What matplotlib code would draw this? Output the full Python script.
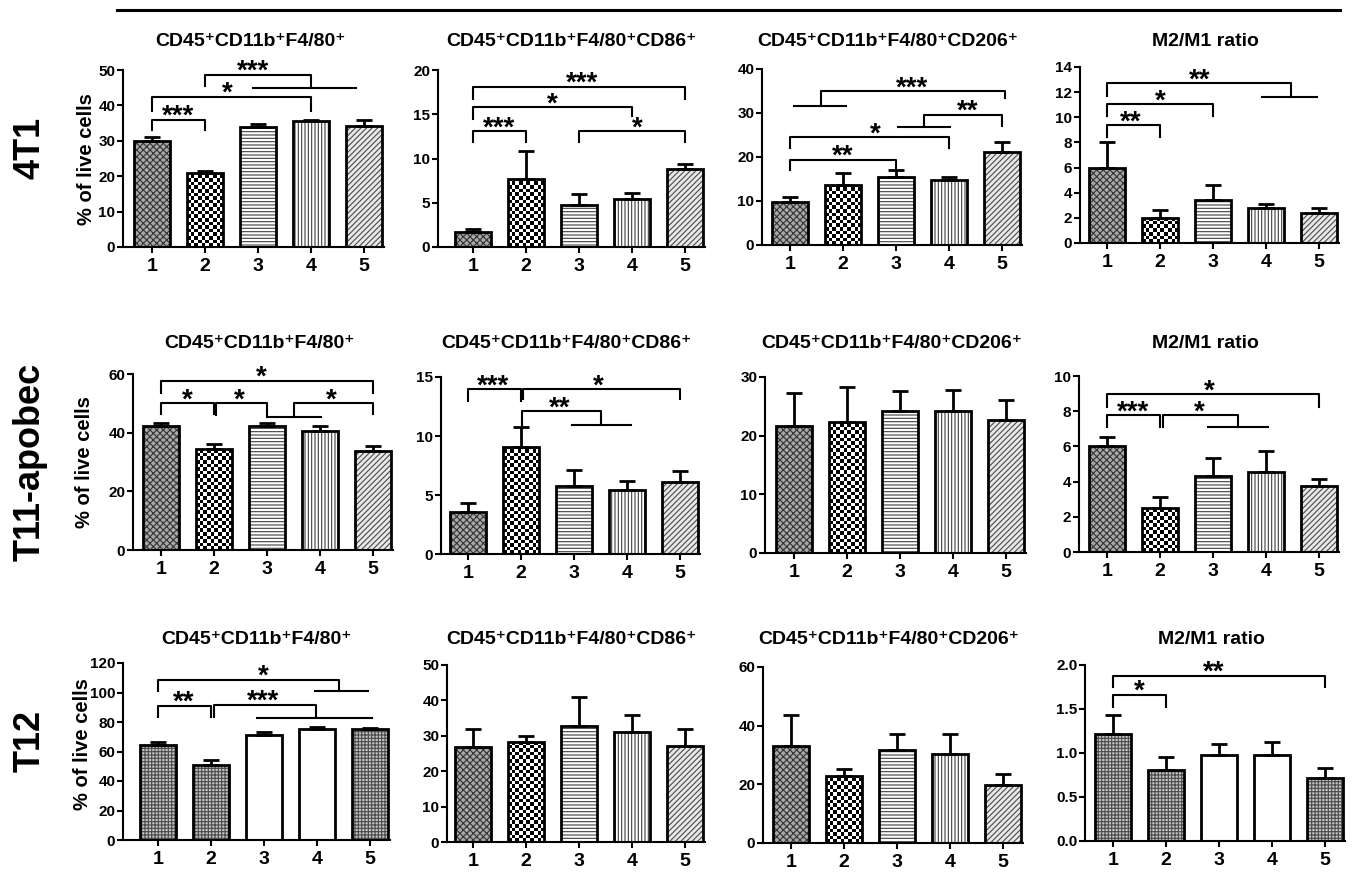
import numpy as np
import matplotlib
matplotlib.use('Agg')
import matplotlib.pyplot as plt
from matplotlib.lines import Line2D
from matplotlib.ticker import FormatStrFormatter

plt.rcParams['font.family'] = ['Liberation Sans', 'DejaVu Sans']
plt.rcParams['font.weight'] = 'bold'
plt.rcParams['hatch.linewidth'] = 0.8

W, H = 1355, 876

groups = [1, 2, 3, 4, 5]
row_names = ['4T1', 'T11-apobec', 'T12']
titles = ['CD45⁺CD11b⁺F4/80⁺', 'CD45⁺CD11b⁺F4/80⁺CD86⁺',
          'CD45⁺CD11b⁺F4/80⁺CD206⁺', 'M2/M1 ratio']
ylabel = '% of live cells'

# ---- 4T1 ----
mean_4t1_f480 = [30.0, 21.0, 33.8, 35.6, 34.2]
sem_4t1_f480 = [1.0, 0.6, 1.0, 0.3, 1.6]
mean_4t1_cd86 = [1.7, 7.7, 4.8, 5.4, 8.8]
sem_4t1_cd86 = [0.3, 3.2, 1.2, 0.7, 0.6]
mean_4t1_cd206 = [9.8, 13.6, 15.4, 14.8, 21.2]
sem_4t1_cd206 = [1.2, 2.8, 1.6, 0.7, 2.1]
mean_4t1_ratio = [6.0, 2.0, 3.4, 2.8, 2.4]
sem_4t1_ratio = [2.0, 0.65, 1.25, 0.3, 0.35]

# ---- T11-apobec ----
mean_t11_f480 = [42.3, 34.4, 42.3, 40.7, 33.7]
sem_t11_f480 = [0.9, 1.9, 1.1, 1.5, 1.7]
mean_t11_cd86 = [3.6, 9.1, 5.8, 5.4, 6.1]
sem_t11_cd86 = [0.75, 1.65, 1.3, 0.8, 0.9]
mean_t11_cd206 = [21.6, 22.3, 24.2, 24.2, 22.7]
sem_t11_cd206 = [5.6, 6.0, 3.4, 3.6, 3.4]
mean_t11_ratio = [6.0, 2.5, 4.3, 4.55, 3.75]
sem_t11_ratio = [0.55, 0.6, 1.05, 1.2, 0.42]

# ---- T12 ----
mean_t12_f480 = [64.5, 51.0, 71.0, 75.5, 75.3]
sem_t12_f480 = [1.7, 3.2, 2.0, 1.0, 0.5]
mean_t12_cd86 = [26.7, 28.2, 32.9, 31.0, 27.1]
sem_t12_cd86 = [5.2, 1.7, 8.2, 4.8, 4.8]
mean_t12_cd206 = [33.0, 22.7, 31.6, 30.3, 19.7]
sem_t12_cd206 = [10.8, 2.5, 5.6, 7.0, 3.8]
mean_t12_ratio = [1.22, 0.81, 0.98, 0.98, 0.72]
sem_t12_ratio = [0.21, 0.15, 0.12, 0.14, 0.11]

# y axis range / step per panel
ymax_list = [[50, 20, 40, 14], [60, 15, 30, 10], [120, 50, 60, 2.0]]
ystep_list = [[10, 5, 10, 2], [20, 5, 10, 2], [20, 10, 20, 0.5]]

# significance brackets: (x1, x2, y, leg1 end, leg2 end, label, label x)
sig_4t1_f480 = [(1, 2, 36, 33, 33, '***', 1.5),
                (1, 4, 42.4, 38.3, 38.5, '*', 2.42),
                (2, 4, 48.6, 45.5, 45, '***', 2.9)]
grp_4t1_f480 = [(2.9, 4.85, 45)]
sig_4t1_cd86 = [(1, 2, 13.1, 11.9, 11.9, '***', 1.5),
                (1, 4, 15.8, 14.5, 14.8, '*', 2.5),
                (1, 5, 18.1, 16.7, 16.7, '***', 3.05),
                (3, 5, 13.1, 11.9, 11.9, '*', 4.1)]
grp_4t1_cd86 = []
sig_4t1_cd206 = [(1, 3, 19.4, 17, 17.1, '**', 2.0),
                 (1, 4, 24.5, 22, 22, '*', 2.6),
                 (3.53, 5, 29.6, 26.8, 27.1, '**', 4.35),
                 (1.58, 5.06, 34.9, 31.7, 33.4, '***', 3.3)]
grp_4t1_cd206 = [(3.03, 4.02, 26.8), (1.08, 2.05, 31.7)]
sig_4t1_ratio = [(1, 2, 9.38, 8.45, 8.45, '**', 1.45),
                 (1, 3, 11.04, 10.1, 10.1, '*', 2.0),
                 (1, 4.47, 12.73, 11.7, 11.6, '**', 2.75)]
grp_4t1_ratio = [(3.93, 4.97, 11.6)]

sig_t11_f480 = [(1, 2, 50, 46.4, 46.4, '*', 1.5),
                (2.04, 3, 50, 46, 45.2, '*', 2.48),
                (3.51, 5, 50, 45.2, 46.4, '*', 4.22),
                (1, 5, 57.7, 53.4, 53.4, '*', 2.9)]
grp_t11_f480 = [(3, 4.02, 45.2)]
sig_t11_cd86 = [(1, 2, 13.98, 13.0, 13.0, '***', 1.48),
                (2.04, 5, 13.98, 13.1, 13.1, '*', 3.45),
                (2.01, 3.5, 12.1, 10.8, 10.95, '**', 2.73)]
grp_t11_cd86 = [(2.96, 4.07, 10.95)]
sig_t11_ratio = [(1, 2, 7.78, 7.08, 7.08, '***', 1.5),
                 (2.06, 3.47, 7.78, 7.08, 7.08, '*', 2.75),
                 (1, 5, 8.96, 8.25, 8.25, '*', 2.93)]
grp_t11_ratio = [(2.9, 4.04, 7.08)]

sig_t12_f480 = [(1, 2, 91, 83.3, 83.3, '**', 1.48),
                (2.06, 3.98, 91.7, 83.3, 83.3, '***', 2.98),
                (1, 4.42, 108.7, 101.2, 100.7, '*', 2.98)]
grp_t12_f480 = [(2.87, 5.03, 83), (3.97, 4.97, 100.7)]
sig_t12_ratio = [(1, 2, 1.66, 1.52, 1.52, '*', 1.5),
                 (1, 5, 1.88, 1.75, 1.75, '**', 2.9)]
grp_t12_ratio = []

means = [[mean_4t1_f480, mean_4t1_cd86, mean_4t1_cd206, mean_4t1_ratio],
         [mean_t11_f480, mean_t11_cd86, mean_t11_cd206, mean_t11_ratio],
         [mean_t12_f480, mean_t12_cd86, mean_t12_cd206, mean_t12_ratio]]
sems = [[sem_4t1_f480, sem_4t1_cd86, sem_4t1_cd206, sem_4t1_ratio],
        [sem_t11_f480, sem_t11_cd86, sem_t11_cd206, sem_t11_ratio],
        [sem_t12_f480, sem_t12_cd86, sem_t12_cd206, sem_t12_ratio]]
sigs = [[sig_4t1_f480, sig_4t1_cd86, sig_4t1_cd206, sig_4t1_ratio],
        [sig_t11_f480, sig_t11_cd86, [], sig_t11_ratio],
        [sig_t12_f480, [], [], sig_t12_ratio]]
grps = [[grp_4t1_f480, grp_4t1_cd86, grp_4t1_cd206, grp_4t1_ratio],
        [grp_t11_f480, grp_t11_cd86, [], grp_t11_ratio],
        [grp_t12_f480, [], [], grp_t12_ratio]]

# bar fill styles
std_styles = ['fine', 'checker', 'hline', 'vline', 'diag']
t12_styles = ['stipple', 'stipple', 'white', 'white', 'stipple']
styles = [[std_styles] * 4, [std_styles] * 4,
          [t12_styles, std_styles, std_styles, t12_styles]]
hatch_spec = {
    'fine':    ('#a8a8a8', 'xxxxx', '#333333'),
    'hline':   ('white', '-----', '#404040'),
    'vline':   ('white', '|||||', '#404040'),
    'diag':    ('#e8e8e8', '//////', '#4a4a4a'),
    'stipple': ('#c4c4c4', '+++++', '#4a4a4a'),
    'white':   ('white', None, 'white'),
}

# pixel layout of each panel
spine_x = [[123, 438, 762, 1080], [133, 441, 765, 1079], [123, 447, 763, 1085]]
bar1_x = [[152, 473, 790, 1107], [161, 468, 794, 1107], [158, 473, 791, 1113]]
top_y = [[70, 70, 69, 67], [374, 377, 377, 376], [663, 665, 667, 665]]
bot_y = [[247, 247, 245, 243], [550, 554, 553, 552], [840, 842, 843, 841]]
title_y = [42, 343, 639]
rowlab_y = [148, 462, 741]
ylab_x = [86, 85, 82]
ylab_y = [159, 462, 744]
step = 53
bar_w = 0.68

fig = plt.figure(figsize=(W / 100, H / 100), dpi=100)
fig.add_artist(Line2D([117 / W, 1340 / W], [1 - 10 / H, 1 - 10 / H],
                      color='black', lw=2.2))

for r in range(3):
    fig.text(30 / W, 1 - rowlab_y[r] / H, row_names[r], rotation=90,
             ha='center', va='center', fontsize=26, fontweight='bold')
    fig.text(ylab_x[r] / W, 1 - ylab_y[r] / H, ylabel, rotation=90,
             ha='center', va='center', fontsize=14.5, fontweight='bold')
    for c in range(4):
        sx, bx, ty, by = spine_x[r][c], bar1_x[r][c], top_y[r][c], bot_y[r][c]
        wpx = bx - sx + 4 * step + 20
        ax = fig.add_axes([sx / W, 1 - by / H, wpx / W, (by - ty) / H])
        ymax = ymax_list[r][c]
        m = means[r][c]
        s = sems[r][c]

        for i, g in enumerate(groups):
            st = styles[r][c][i]
            if st == 'checker':
                bars = ax.bar(g, m[i], bar_w, color='white', linewidth=0, zorder=2)
                cx = 3.6 / step
                cy = 3.6 * ymax / (by - ty)
                nx = int(np.ceil(bar_w / cx))
                ny = int(np.ceil(m[i] / cy))
                board = np.add.outer(np.arange(ny), np.arange(nx)) % 2
                im = ax.imshow(board, cmap='gray', origin='lower',
                               extent=(g - bar_w / 2, g - bar_w / 2 + nx * cx, 0, ny * cy),
                               interpolation='nearest', aspect='auto', zorder=2.1)
                im.set_clip_path(bars[0])
            else:
                fc, hatch, hc = hatch_spec[st]
                ax.bar(g, m[i], bar_w, color=fc, edgecolor=hc, hatch=hatch,
                       linewidth=0, zorder=2)
        ax.bar(groups, m, bar_w, fill=False, edgecolor='black', linewidth=2, zorder=3)
        ax.errorbar(groups, m, yerr=[np.zeros(5), s], fmt='none', ecolor='black',
                    elinewidth=2, capsize=6, capthick=2, zorder=2.5)

        for x1, x2, y, l1, l2, lab, lx in sigs[r][c]:
            ax.plot([x1, x1, x2, x2], [l1, y, y, l2], color='black', lw=1.5,
                    clip_on=False, zorder=4)
            ax.annotate(lab, xy=(lx, y), xytext=(0, -3), textcoords='offset points',
                        ha='center', va='baseline', fontsize=20, fontweight='bold',
                        annotation_clip=False)
        for xa, xb, y in grps[r][c]:
            ax.plot([xa, xb], [y, y], color='black', lw=1.5, clip_on=False, zorder=4)

        ax.set_xlim(1 - (bx - sx) / step, 5 + 20 / step)
        ax.set_ylim(0, ymax)
        ax.set_yticks(np.arange(0, ymax + 1e-9, ystep_list[r][c]))
        if ymax < 5:
            ax.yaxis.set_major_formatter(FormatStrFormatter('%.1f'))
        ax.set_xticks(groups)
        ax.tick_params(axis='x', length=4, width=1.5, labelsize=14, pad=4)
        ax.tick_params(axis='y', length=4, width=1.5, labelsize=11, pad=1.5)
        for sp in ['top', 'right']:
            ax.spines[sp].set_visible(False)
        for sp in ['left', 'bottom']:
            ax.spines[sp].set_linewidth(1.5)
        ax.set_facecolor('none')

        fig.text((bx + 2 * step - 8) / W, 1 - title_y[r] / H, titles[c],
                 ha='center', va='center', fontsize=14, fontweight='bold')

fig.savefig('out.png', dpi=100)
